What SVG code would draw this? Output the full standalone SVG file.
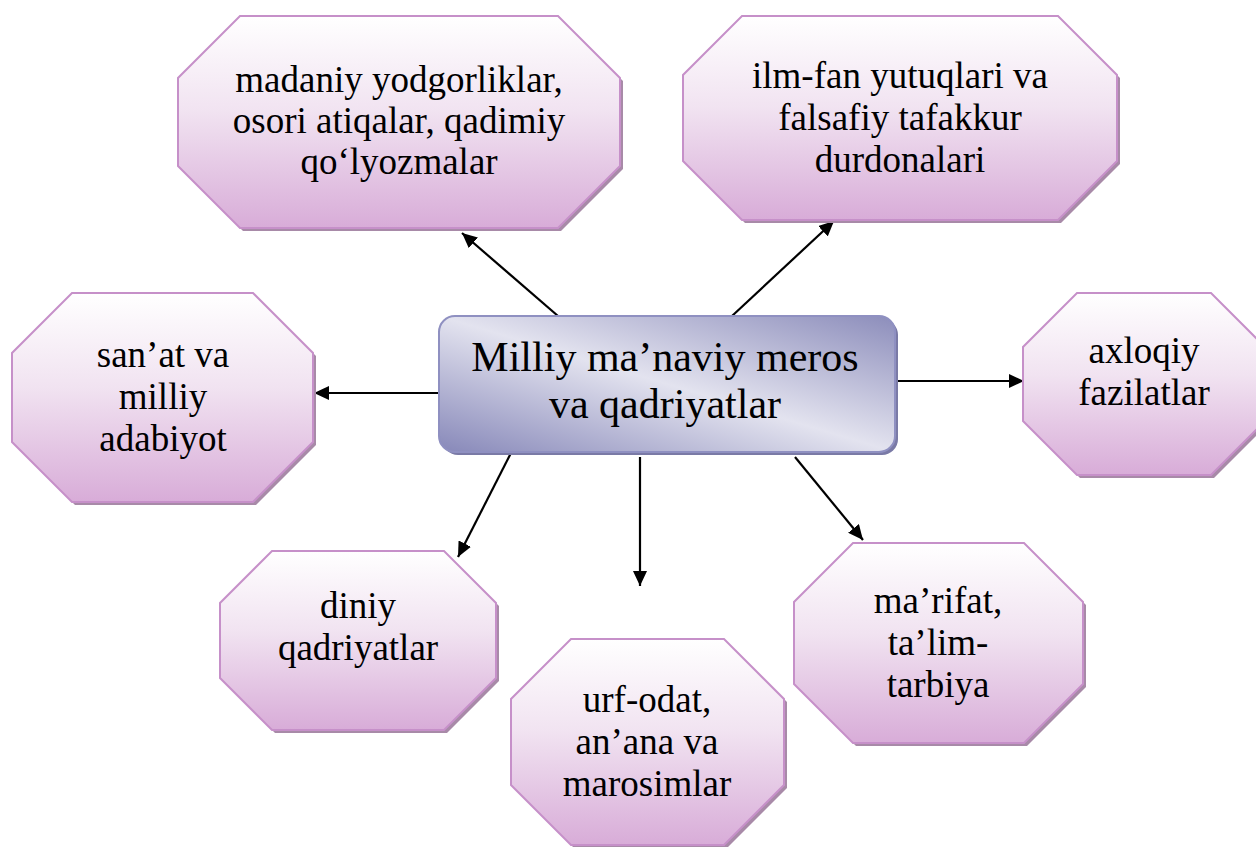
<svg xmlns="http://www.w3.org/2000/svg" width="1256" height="847" viewBox="0 0 1256 847">
<defs>
<linearGradient id="oct" x1="0" y1="0" x2="0" y2="1">
<stop offset="0" stop-color="#ffffff"/>
<stop offset="0.45" stop-color="#f1e3f1"/>
<stop offset="1" stop-color="#d8acd8"/>
</linearGradient>
<linearGradient id="ctr" x1="0" y1="1" x2="1" y2="0">
<stop offset="0" stop-color="#8788b9"/>
<stop offset="0.5" stop-color="#e3e3ef"/>
<stop offset="1" stop-color="#8c8dbb"/>
</linearGradient>
<marker id="arr" markerUnits="userSpaceOnUse" markerWidth="16" markerHeight="14" refX="15" refY="7" orient="auto">
<path d="M0,0 L15,7 L0,14 Z" fill="#000"/>
</marker>
</defs>
<style>
.sh{fill:#a88aa8}
.oc{fill:url(#oct);stroke:#c690c9;stroke-width:2}
.t{font-family:"Liberation Serif","Times New Roman",serif;font-size:37px;fill:#000;text-anchor:middle}
.tc{font-family:"Liberation Serif","Times New Roman",serif;font-size:42px;fill:#000;text-anchor:middle}
.ln{stroke:#000;stroke-width:2.2;fill:none;marker-end:url(#arr)}
</style>
<rect width="1256" height="847" fill="#fff"/>

<g id="connectors">
<line class="ln" x1="558" y1="316" x2="462" y2="233"/>
<line class="ln" x1="732" y1="316" x2="834" y2="221"/>
<line class="ln" x1="440" y1="393" x2="314" y2="393"/>
<line class="ln" x1="893" y1="381" x2="1024" y2="381"/>
<line class="ln" x1="512" y1="451" x2="458" y2="557"/>
<line class="ln" x1="640" y1="457" x2="640" y2="586"/>
<line class="ln" x1="795" y1="457" x2="863" y2="540"/>
</g>

<g id="center">
<rect x="442" y="319" width="456" height="136" rx="16" fill="#7a7aa6"/>
<rect x="439" y="316" width="456" height="136" rx="16" fill="url(#ctr)" stroke="#8f90c1" stroke-width="2"/>
<text class="tc" x="665" y="371">Milliy ma’naviy meros</text>
<text class="tc" x="665" y="418">va qadriyatlar</text>
</g>

<g id="n1">
<polygon class="sh" transform="translate(3,3)" points="240,16 558,16 620,78 620,166 558,228 240,228 178,166 178,78"/>
<polygon class="oc" points="240,16 558,16 620,78 620,166 558,228 240,228 178,166 178,78"/>
<text class="t" x="399" y="92">madaniy yodgorliklar,</text>
<text class="t" x="399" y="133">osori atiqalar, qadimiy</text>
<text class="t" x="399" y="174">qo‘lyozmalar</text>
</g>

<g id="n2">
<polygon class="sh" transform="translate(3,3)" points="742,16 1058,16 1117,75 1117,161 1058,220 742,220 683,161 683,75"/>
<polygon class="oc" points="742,16 1058,16 1117,75 1117,161 1058,220 742,220 683,161 683,75"/>
<text class="t" x="900" y="88">ilm-fan yutuqlari va</text>
<text class="t" x="900" y="130">falsafiy tafakkur</text>
<text class="t" x="900" y="172">durdonalari</text>
</g>

<g id="n3">
<polygon class="sh" transform="translate(3,3)" points="72,293 253,293 313,353 313,442 253,502 72,502 12,442 12,353"/>
<polygon class="oc" points="72,293 253,293 313,353 313,442 253,502 72,502 12,442 12,353"/>
<text class="t" x="163" y="367">san’at va</text>
<text class="t" x="163" y="409">milliy</text>
<text class="t" x="163" y="451">adabiyot</text>
</g>

<g id="n4">
<polygon class="sh" transform="translate(3,3)" points="1077,293 1211,293 1265,347 1265,421 1211,475 1077,475 1023,421 1023,347"/>
<polygon class="oc" points="1077,293 1211,293 1265,347 1265,421 1211,475 1077,475 1023,421 1023,347"/>
<text class="t" x="1144" y="363">axloqiy</text>
<text class="t" x="1144" y="405">fazilatlar</text>
</g>

<g id="n5">
<polygon class="sh" transform="translate(3,3)" points="272,551 444,551 496,603 496,678 444,730 272,730 220,678 220,603"/>
<polygon class="oc" points="272,551 444,551 496,603 496,678 444,730 272,730 220,678 220,603"/>
<text class="t" x="358" y="618">diniy</text>
<text class="t" x="358" y="660">qadriyatlar</text>
</g>

<g id="n6">
<polygon class="sh" transform="translate(3,3)" points="571,639 724,639 784,699 784,785 724,845 571,845 511,785 511,699"/>
<polygon class="oc" points="571,639 724,639 784,699 784,785 724,845 571,845 511,785 511,699"/>
<text class="t" x="647" y="712">urf-odat,</text>
<text class="t" x="647" y="754">an’ana va</text>
<text class="t" x="647" y="796">marosimlar</text>
</g>

<g id="n7">
<polygon class="sh" transform="translate(3,3)" points="853,543 1024,543 1083,602 1083,684 1024,743 853,743 794,684 794,602"/>
<polygon class="oc" points="853,543 1024,543 1083,602 1083,684 1024,743 853,743 794,684 794,602"/>
<text class="t" x="938" y="613">ma’rifat,</text>
<text class="t" x="938" y="655">ta’lim-</text>
<text class="t" x="938" y="697">tarbiya</text>
</g>
</svg>
